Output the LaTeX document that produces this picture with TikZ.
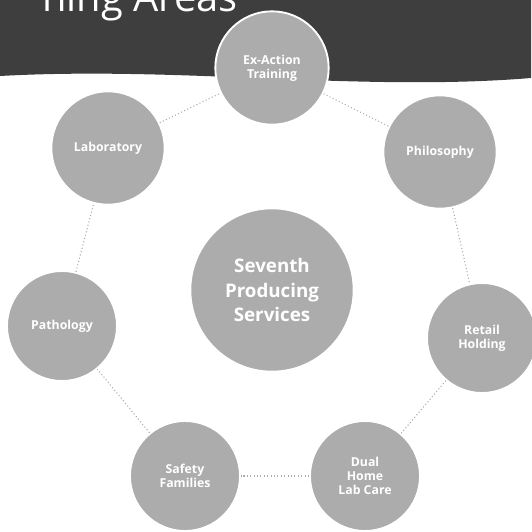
\documentclass[tikz,border=0pt]{standalone}
\usepackage{fontspec}
\setmainfont{Open Sans}
\usepackage{tikz}
\usepackage{xcolor}
\usetikzlibrary{positioning,calc}
\definecolor{bannergray}{RGB}{62,62,62}
\definecolor{circgray}{RGB}{172,172,172}
\definecolor{linkgray}{RGB}{170,170,170}

\begin{document}
\begin{tikzpicture}[x=0.03cm,y=-0.03cm,
  area/.style={circle,draw=white,line width=1.6pt,fill=circgray,text=white,
    font=\bfseries\fontsize{10.5}{12}\selectfont,align=center,inner sep=0pt,minimum size=3.4cm},
  hub/.style={area,minimum size=4.9cm,font=\bfseries\fontsize{16}{21}\selectfont},
  link/.style={linkgray,line width=0.9pt,dotted}]
\useasboundingbox (0,0) rectangle (531,532);
\fill[bannergray] (0,0) -- (531,0) -- (531,78) .. controls (360,92) and (180,66) .. (0,76) -- cycle;
\node[anchor=base east,text=white,font=\fontsize{34}{36}\selectfont,inner sep=0pt] (title) at (238,12) {ning Areas};
\node[area] (train) at (272,68) {Ex-Action\\Training};
\node[area] (lab) at (108,148) {Laboratory};
\node[area] (phil) at (440,152) {Philosophy};
\node[area,minimum size=3.3cm] (path) at (62,326) {Pathology};
\node[area,minimum size=3.3cm] (retail) at (482,338) {Retail\\Holding};
\node[area,minimum size=3.3cm] (safety) at (185,476) {Safety\\Families};
\node[area,minimum size=3.3cm] (home) at (365,476) {Dual\\Home\\Lab Care};
\node[hub] (serv) at (272,290) {Seventh\\Producing\\Services};
\foreach \a/\b in {train/phil,phil/retail,retail/home,home/safety,safety/path,path/lab,lab/train}{\draw[link] (\a) -- (\b);}
\end{tikzpicture}
\end{document}
